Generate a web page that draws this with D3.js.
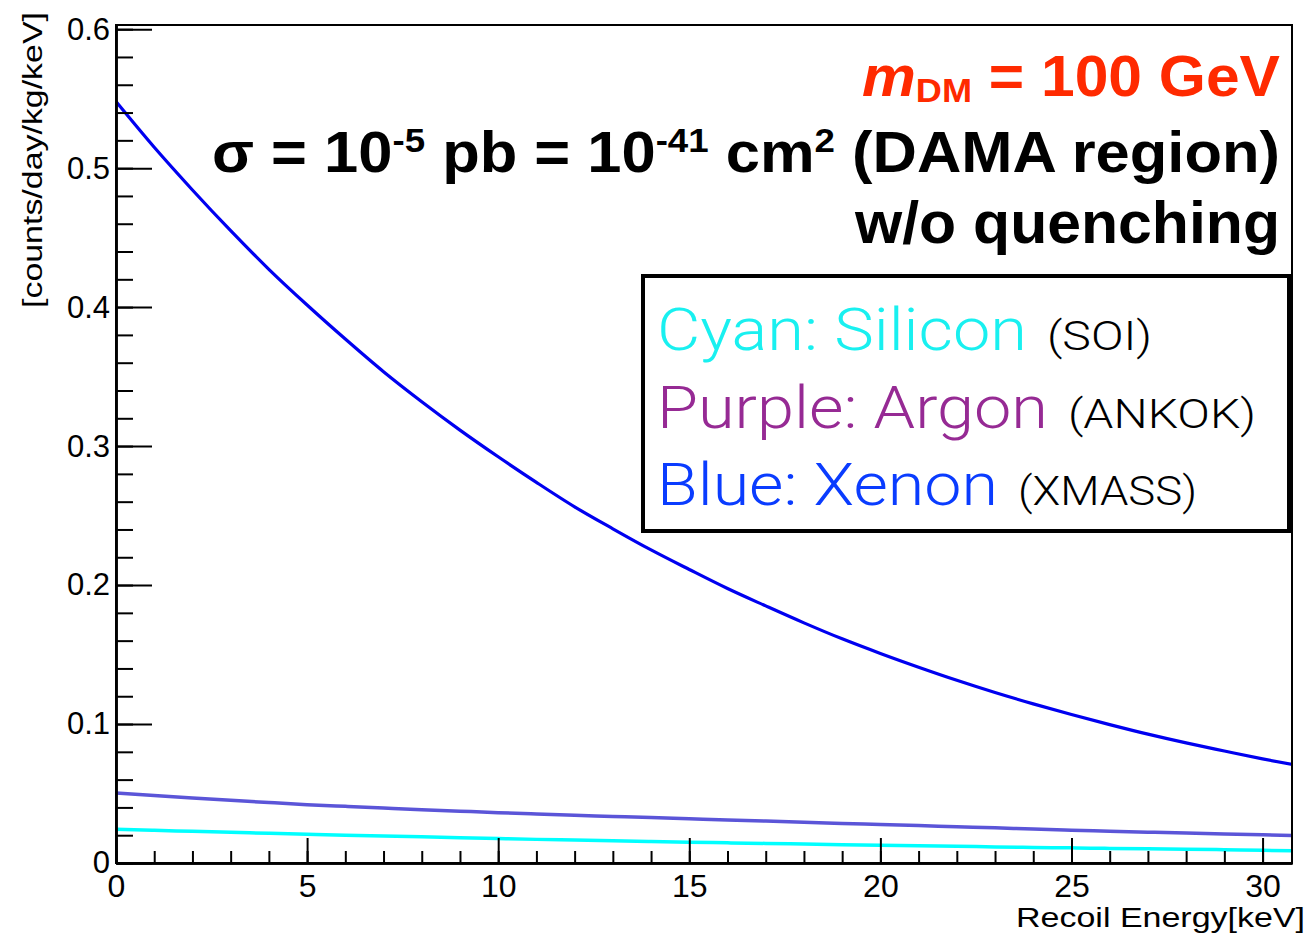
<!DOCTYPE html>
<html><head><meta charset="utf-8">
<script src="https://cdn.jsdelivr.net/npm/d3@7"></script>
<style>
html,body{margin:0;padding:0;background:#fff;}
svg{display:block;}
text{font-family:"Liberation Sans","Helvetica",Arial,sans-serif;}
text.light{font-family:"Roboto","Liberation Sans",sans-serif;}
</style></head>
<body>
<svg id="chart" width="1311" height="936"></svg>
<script>
// ---- data (recoil energy in keV, rate in counts/day/kg/keV) ----
const energies = [0,1,2,3,4,5,6,7,8,9,10,11,12,13,14,15,16,17,18,19,20,21,22,23,24,25,26,27,28,29,30,31];
const xenon = [0.5479,0.5150,0.4843,0.4550,0.4272,0.4015,0.3770,0.3535,0.3319,0.3115,0.2923,0.2739,0.2563,0.2405,0.2253,0.2112,0.1975,0.1850,0.1728,0.1613,0.1508,0.1409,0.1315,0.1227,0.1145,0.1068,0.0996,0.0927,0.0864,0.0806,0.0749,0.0697];
const argon = [0.0504,0.0486,0.0468,0.0451,0.0435,0.0420,0.0408,0.0396,0.0384,0.0373,0.0362,0.0353,0.0344,0.0335,0.0327,0.0318,0.0310,0.0302,0.0294,0.0285,0.0277,0.0269,0.0261,0.0253,0.0244,0.0236,0.0229,0.0222,0.0215,0.0209,0.0203,0.0197];
const silicon = [0.0243,0.0235,0.0228,0.0221,0.0214,0.0207,0.0200,0.0194,0.0188,0.0182,0.0176,0.0170,0.0165,0.0160,0.0155,0.0150,0.0145,0.0141,0.0136,0.0132,0.0128,0.0124,0.0120,0.0116,0.0112,0.0109,0.0105,0.0102,0.0099,0.0096,0.0091,0.0088];
const xDomain = [0, 30.77];
const yDomain = [0, 0.603];
const xMajorTicks = [0,5,10,15,20,25,30];
const xMinorTicks = d3.range(0,31,1);
const yMajorTicks = [0,0.1,0.2,0.3,0.4,0.5,0.6];
const yMinorTicks = d3.range(0,0.601,0.02);
const xTitle = "Recoil Energy[keV]";
const yTitle = "[counts/day/kg/keV]";
const legendItems = [
  {name:"Cyan: Silicon", note:"(SOI)", color:"#19f0f0"},
  {name:"Purple: Argon", note:"(ANKOK)", color:"#962a94"},
  {name:"Blue: Xenon", note:"(XMASS)", color:"#0a3cff"}
];
const seriesList = [
  {key:"argon", values:argon, color:"#5b55d8", width:3.5},
  {key:"silicon", values:silicon, color:"#00ffff", width:3.5},
  {key:"xenon", values:xenon, color:"#0000f0", width:3.2}
];

// ---- layout ----
const margin = {left:116, right:1311-1292, top:25, bottom:936-863};
const W = 1311, H = 936;
const svg = d3.select("#chart");
const x = d3.scaleLinear().domain(xDomain).range([margin.left, W-margin.right]);
const y = d3.scaleLinear().domain(yDomain).range([H-margin.bottom, margin.top]);

svg.append("defs").append("clipPath").attr("id","clip")
  .append("rect").attr("x",x(xDomain[0])).attr("y",y(yDomain[1]))
  .attr("width",x(xDomain[1])-x(xDomain[0])).attr("height",y(yDomain[0])-y(yDomain[1]));

// lines
const line = d3.line().x((d,i)=>x(energies[i])).y(d=>y(d)).curve(d3.curveMonotoneX);
svg.append("g").attr("clip-path","url(#clip)")
  .selectAll("path").data(seriesList).join("path")
  .attr("d",d=>line(d.values)).attr("fill","none")
  .attr("stroke",d=>d.color).attr("stroke-width",d=>d.width);

// frame
svg.append("rect").attr("x",x(xDomain[0])).attr("y",y(yDomain[1]))
  .attr("width",x(xDomain[1])-x(xDomain[0])).attr("height",y(yDomain[0])-y(yDomain[1]))
  .attr("fill","none").attr("stroke","#000").attr("stroke-width",2);

// y axis
const yMinor = svg.append("g").attr("transform",`translate(${x(0)},0)`)
  .call(d3.axisLeft(y).tickValues(yMinorTicks).tickSizeInner(-17).tickSizeOuter(0).tickFormat(""));
const yMajor = svg.append("g").attr("transform",`translate(${x(0)},0)`)
  .call(d3.axisLeft(y).tickValues(yMajorTicks).tickSizeInner(-36).tickSizeOuter(0).tickPadding(6)
    .tickFormat(d=> d===0 ? "0" : d3.format(".1f")(d)));
[yMinor,yMajor].forEach(g=>{
  g.select(".domain").attr("stroke","#000").attr("stroke-width",2.5);
  g.selectAll(".tick line").attr("stroke","#000").attr("stroke-width",2);
  g.selectAll("text").attr("font-size",31).attr("fill","#000");
});

// x axis
const xMinor = svg.append("g").attr("transform",`translate(0,${y(0)})`)
  .call(d3.axisBottom(x).tickValues(xMinorTicks).tickSizeInner(-12).tickSizeOuter(0).tickFormat(""));
const xMajor = svg.append("g").attr("transform",`translate(0,${y(0)})`)
  .call(d3.axisBottom(x).tickValues(xMajorTicks).tickSizeInner(-25).tickSizeOuter(0).tickPadding(11)
    .tickFormat(d3.format("d")));
[xMinor,xMajor].forEach(g=>{
  g.select(".domain").attr("stroke","#000").attr("stroke-width",2.5);
  g.selectAll(".tick line").attr("stroke","#000").attr("stroke-width",2);
  g.selectAll("text").attr("font-size",32).attr("fill","#000");
});

function fit(sel, w){ sel.attr("textLength",w).attr("lengthAdjust","spacingAndGlyphs"); return sel; }

// axis titles
fit(svg.append("text").attr("x",1305).attr("y",927).attr("text-anchor","end")
  .attr("font-size",28).text(xTitle), 289);
fit(svg.append("text").attr("transform","translate(42,12) rotate(-90)").attr("text-anchor","end")
  .attr("font-size",27).text(yTitle), 296);

// annotation
const t1 = svg.append("text").attr("x",1280).attr("y",96).attr("text-anchor","end")
  .attr("font-weight","bold").attr("font-size",57).attr("fill","#ff2a00");
t1.append("tspan").attr("font-style","italic").text("m");
t1.append("tspan").attr("font-size",34).attr("dy",6).text("DM");
t1.append("tspan").attr("dy",-6).text(" = 100 GeV");
fit(t1, 418);

const t2 = svg.append("text").attr("x",1280).attr("y",172).attr("text-anchor","end")
  .attr("font-weight","bold").attr("font-size",57).attr("fill","#000");
t2.append("tspan").text("σ = 10");
t2.append("tspan").attr("font-size",34).attr("dy",-20).text("-5");
t2.append("tspan").attr("dy",20).text(" pb = 10");
t2.append("tspan").attr("font-size",34).attr("dy",-20).text("-41");
t2.append("tspan").attr("dy",20).text(" cm");
t2.append("tspan").attr("font-size",34).attr("dy",-20).text("2");
t2.append("tspan").attr("dy",20).text(" (DAMA region)");
fit(t2, 1068);

fit(svg.append("text").attr("x",1280).attr("y",243).attr("text-anchor","end")
  .attr("font-weight","bold").attr("font-size",59).attr("fill","#000").text("w/o quenching"), 425);

// legend
svg.append("rect").attr("x",643).attr("y",276).attr("width",646).attr("height",255)
  .attr("fill","#fff").attr("stroke","#000").attr("stroke-width",4);
const nameW = [370,391,341], noteW = [105,188,179];
legendItems.forEach((d,i)=>{
  const yy = 350 + i*77.5;
  fit(svg.append("text").attr("class","light").attr("x",657).attr("y",yy).attr("font-size",60).attr("font-weight",300)
    .attr("fill",d.color).text(d.name), nameW[i]);
  fit(svg.append("text").attr("class","light").attr("x",657+nameW[i]+20).attr("y",yy).attr("font-size",41).attr("font-weight",300)
    .attr("fill","#000").text(d.note), noteW[i]);
});
</script>
</body></html>
